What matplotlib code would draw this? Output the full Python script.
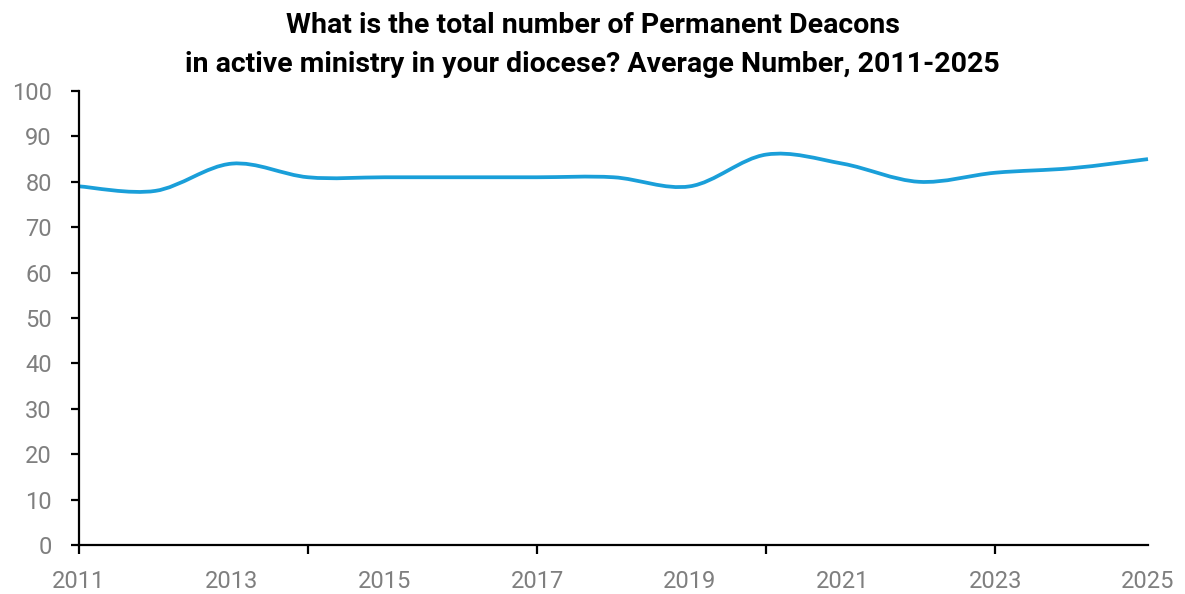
import numpy as np
import matplotlib
matplotlib.use("Agg")
import matplotlib.pyplot as plt
from matplotlib.path import Path
from matplotlib.patches import PathPatch

years = [2011, 2012, 2013, 2014, 2015, 2016, 2017, 2018, 2019, 2020, 2021, 2022, 2023, 2024, 2025]
avg_deacons = [79, 78, 84, 81, 81, 81, 81, 81, 79, 86, 84, 80, 82, 83, 85]
label_years = [2011, 2013, 2015, 2017, 2019, 2021, 2023, 2025]
tick_years = [2011, 2014, 2017, 2020, 2023]

title_lines = ["What is the total number of Permanent Deacons",
               "in active ministry in your diocese? Average Number, 2011-2025"]

plt.rcParams['font.family'] = ['Roboto', 'DejaVu Sans']

fig = plt.figure(figsize=(11.85, 5.94), dpi=100)
ax = fig.add_axes([79 / 1185, 1 - 545 / 594, (1148 - 79) / 1185, (545 - 91) / 594])

# smoothed line like a spreadsheet (Catmull-Rom as cubic Bezier)
x = np.array(years, dtype=float)
y = np.array(avg_deacons, dtype=float)
verts = [(x[0], y[0])]
codes = [Path.MOVETO]
n = len(x)
for i in range(n - 1):
    p0 = (x[max(i - 1, 0)], y[max(i - 1, 0)])
    p1 = (x[i], y[i])
    p2 = (x[i + 1], y[i + 1])
    p3 = (x[min(i + 2, n - 1)], y[min(i + 2, n - 1)])
    c1 = (p1[0] + (p2[0] - p0[0]) / 6, p1[1] + (p2[1] - p0[1]) / 6)
    c2 = (p2[0] - (p3[0] - p1[0]) / 6, p2[1] - (p3[1] - p1[1]) / 6)
    verts += [c1, c2, p2]
    codes += [Path.CURVE4] * 3
ax.add_patch(PathPatch(Path(verts, codes), facecolor="none", edgecolor="#1a9fd9",
                       lw=2.7, capstyle="butt", clip_on=False))

ax.set_xlim(2011, 2025)
ax.set_ylim(0, 100)
ax.set_yticks(range(0, 101, 10))
ax.xaxis.remove_overlapping_locs = False
ax.set_xticks(label_years)
ax.set_xticks(tick_years, minor=True)

for s in ["top", "right"]:
    ax.spines[s].set_visible(False)
for s in ["left", "bottom"]:
    ax.spines[s].set_linewidth(1.6)

ax.tick_params(axis="y", length=6, width=1.6, pad=13.5, labelsize=17, labelcolor="#7f7f7f")
ax.tick_params(axis="x", which="major", length=0, pad=18, labelsize=17, labelcolor="#7f7f7f")
ax.tick_params(axis="x", which="minor", length=6.5, width=1.6)

fig.text(0.5, 1 - 33 / 594, title_lines[0], ha="center", va="baseline",
         fontsize=20.5, fontweight="bold")
fig.text(0.5, 1 - 72 / 594, title_lines[1], ha="center", va="baseline",
         fontsize=20.5, fontweight="bold")

fig.savefig("out.png", dpi=100)
